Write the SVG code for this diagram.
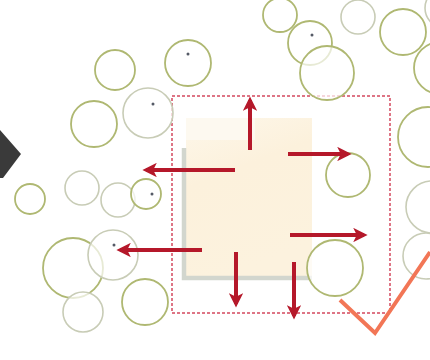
<svg xmlns="http://www.w3.org/2000/svg" width="430" height="360" viewBox="0 0 430 360">
<defs>
<style>
.tree{fill:#ffffff;fill-opacity:0.7;stroke:#afb872;stroke-width:1.8}
.tree2{fill:#ffffff;fill-opacity:0.7;stroke:#c8ccb6;stroke-width:1.6}
.dot{fill:#555a66}
.arr{stroke:#b5182a;stroke-width:4;fill:none;marker-end:url(#ah)}
</style>
<linearGradient id="bg" x1="0" y1="0" x2="0.3" y2="1">
<stop offset="0" stop-color="#fdf7ea"/>
<stop offset="0.4" stop-color="#fcf1dc"/>
<stop offset="1" stop-color="#fcf2de"/>
</linearGradient>
<marker id="ah" viewBox="0 0 12 12" refX="9" refY="6" markerWidth="3.6" markerHeight="3.6" orient="auto" markerUnits="strokeWidth">
<path d="M0,0 L12,6 L0,12 L3,6 z" fill="#b5182a"/>
</marker>
</defs>
<rect width="430" height="360" fill="#ffffff"/>
<polygon id="pointer" points="0,130 21,154 3,178 0,178" fill="#3a3a3a"/>
<g id="building">
<polygon points="186,140 255,140 255,118 312,118 312,278 186,278" fill="url(#bg)"/>
<polygon points="186,140 255,140 255,118 186,118" fill="#fdf9f0"/>
<polyline points="184,148 184,278 312,278" fill="none" stroke="#d2d6ce" stroke-width="4.5"/>
</g>
<rect id="site" x="172" y="96" width="218" height="217" fill="none" stroke="#d4485e" stroke-width="1.5" stroke-dasharray="3 2"/>
<g id="trees">
<circle class="tree" cx="115" cy="70" r="20"/>
<circle class="tree" cx="188" cy="63" r="23"/><circle class="dot" cx="188" cy="54" r="1.5"/>
<circle class="tree" cx="94" cy="124" r="23"/>
<circle class="tree2" cx="148" cy="113" r="25"/><circle class="dot" cx="153" cy="104" r="1.5"/>
<circle class="tree" cx="30" cy="199" r="15"/>
<circle class="tree2" cx="82" cy="188" r="17"/>
<circle class="tree2" cx="118" cy="200" r="17"/>
<circle class="tree" cx="146" cy="194" r="15"/><circle class="dot" cx="152" cy="194" r="1.5"/>
<circle class="tree" cx="73" cy="268" r="30"/>
<circle class="tree2" cx="113" cy="255" r="25"/><circle class="dot" cx="114" cy="245" r="1.5"/>
<circle class="tree2" cx="83" cy="312" r="20"/>
<circle class="tree" cx="145" cy="302" r="23"/>
<circle class="tree" cx="280" cy="15" r="17"/>
<circle class="tree" cx="310" cy="43" r="22"/><circle class="dot" cx="312" cy="35" r="1.5"/>
<circle class="tree" cx="327" cy="73" r="27"/>
<circle class="tree2" cx="358" cy="17" r="17"/>
<circle class="tree" cx="403" cy="32" r="23"/>
<circle class="tree" cx="440" cy="68" r="26"/>
<circle class="tree2" cx="445" cy="8" r="20"/>
<circle class="tree" cx="428" cy="137" r="30"/>
<circle class="tree" cx="348" cy="175" r="22"/>
<circle class="tree2" cx="432" cy="207" r="26"/>
<circle class="tree2" cx="426" cy="256" r="23"/>
<circle class="tree" cx="335" cy="268" r="28"/>
</g>
<polyline id="path" points="340,300 375,333 430,252" fill="none" stroke="#f27656" stroke-width="4" stroke-linejoin="miter"/>
<g id="connectors">
<line class="arr" x1="250" y1="150" x2="250" y2="100"/>
<line class="arr" x1="288" y1="154" x2="348" y2="154"/>
<line class="arr" x1="235" y1="170" x2="146" y2="170"/>
<line class="arr" x1="202" y1="250" x2="120" y2="250"/>
<line class="arr" x1="290" y1="235" x2="364" y2="235"/>
<line class="arr" x1="236" y1="252" x2="236" y2="304"/>
<line class="arr" x1="294" y1="262" x2="294" y2="316"/>
</g>
</svg>
